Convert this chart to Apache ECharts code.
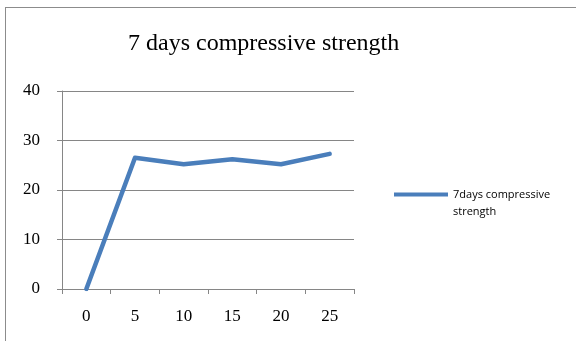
<!DOCTYPE html>
<html>
<head>
<meta charset="utf-8">
<script src="https://cdn.jsdelivr.net/npm/echarts@6/dist/echarts.min.js"></script>
<style>
html,body{margin:0;padding:0;background:#fff;}
#c{width:576px;height:341px;position:absolute;left:0;top:0;}
#bt{position:absolute;left:5px;top:7px;width:571px;height:0;border-top:1.5px solid #8c8c8c;}
#bl{position:absolute;left:5px;top:7px;width:0;height:334px;border-left:1.5px solid #8c8c8c;}
</style>
</head>
<body>
<div id="c"></div>
<div id="bt"></div>
<div id="bl"></div>
<script>
const titleText = '7 days compressive strength';
const categories = ['0', '5', '10', '15', '20', '25'];
const seriesName = '7days compressive\nstrength';
const values = [0, 26.5, 25.2, 26.2, 25.2, 27.3];
const yTicks = {min: 0, max: 40, interval: 10};

const chart = echarts.init(document.getElementById('c'));
chart.setOption({
  animation: false,
  title: {
    text: titleText,
    left: 128, top: 32, padding: 0,
    textStyle: {fontFamily: 'Liberation Serif', fontSize: 24, fontWeight: 'normal', color: '#000'}
  },
  legend: {
    left: 389, top: 164,
    itemWidth: 54, itemHeight: 4, itemGap: 4,
    formatter: function (name) { return '\n' + name; },
    textStyle: {fontFamily: 'Open Sans', fontSize: 11, color: '#000', lineHeight: 17},
    data: [{name: seriesName, icon: 'rect', itemStyle: {color: '#4a7ebb'}}]
  },
  grid: {left: 62, right: 222, top: 91, bottom: 52},
  xAxis: {
    type: 'category', data: categories, boundaryGap: true,
    axisLine: {lineStyle: {color: '#868686', width: 1}},
    axisTick: {show: true, length: 5, alignWithLabel: false, lineStyle: {color: '#868686'}},
    axisLabel: {fontFamily: 'Liberation Serif', fontSize: 17, color: '#000', margin: 19}
  },
  yAxis: {
    type: 'value', min: yTicks.min, max: yTicks.max, interval: yTicks.interval,
    axisLine: {show: true, lineStyle: {color: '#868686', width: 1}},
    axisTick: {show: true, length: 5, lineStyle: {color: '#868686'}},
    splitLine: {lineStyle: {color: '#868686', width: 1}},
    axisLabel: {fontFamily: 'Liberation Serif', fontSize: 17, color: '#000', margin: 22}
  },
  series: [{
    name: seriesName, type: 'line', data: values,
    symbol: 'none', lineStyle: {color: '#4a7ebb', width: 4.5, cap: 'round', join: 'round'},
    itemStyle: {color: '#4a7ebb'}
  }]
});
</script>
</body>
</html>
